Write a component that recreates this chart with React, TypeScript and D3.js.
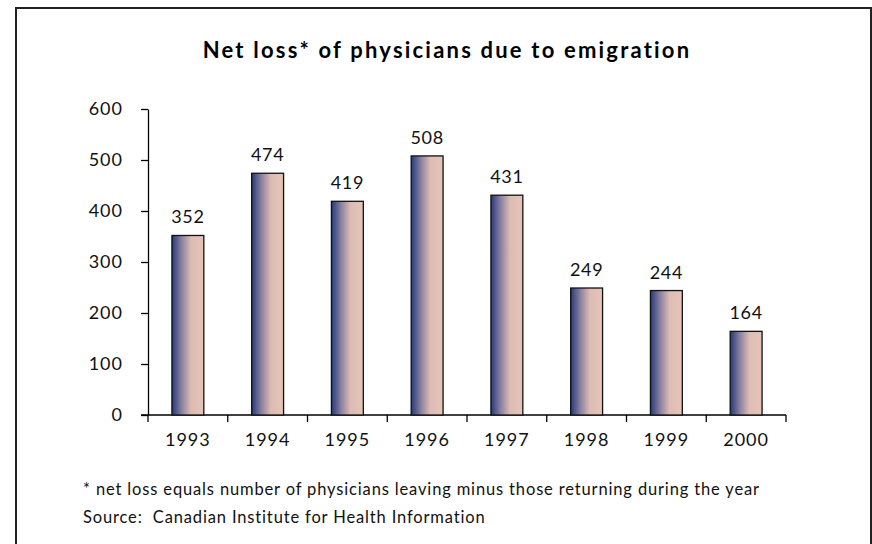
import React, { useEffect, useRef } from "react";
import * as d3 from "d3";

const years = ["1993", "1994", "1995", "1996", "1997", "1998", "1999", "2000"];
const netLoss = [352, 474, 419, 508, 431, 249, 244, 164];
const yTicks = [0, 100, 200, 300, 400, 500, 600];

const title = "Net loss* of physicians due to emigration";
const footnote = "* net loss equals number of physicians leaving minus those returning during the year";
const source = "Source:  Canadian Institute for Health Information";

const W = 872;
const H = 544;
const FONT = "Lato, 'Open Sans', sans-serif";

const App = () => {
  const ref = useRef<SVGSVGElement>(null);

  useEffect(() => {
    const svg = d3.select(ref.current);
    svg.selectAll("*").remove();

    // gradient for the bars: navy on the left, pink on the right
    const grad = svg
      .append("defs")
      .append("linearGradient")
      .attr("id", "barGrad")
      .attr("x1", "0%")
      .attr("x2", "100%")
      .attr("y1", "0%")
      .attr("y2", "0%");
    grad.append("stop").attr("offset", "0%").attr("stop-color", "#233a7c");
    grad.append("stop").attr("offset", "30%").attr("stop-color", "#8a7f9e");
    grad.append("stop").attr("offset", "60%").attr("stop-color", "#dcbcb4");
    grad.append("stop").attr("offset", "100%").attr("stop-color", "#e6c5b8");

    // frame
    svg
      .append("rect")
      .attr("x", 16)
      .attr("y", 8)
      .attr("width", 855)
      .attr("height", 560)
      .attr("fill", "#fff")
      .attr("stroke", "#222")
      .attr("stroke-width", 2);

    svg
      .append("text")
      .attr("x", 447)
      .attr("y", 58)
      .attr("text-anchor", "middle")
      .attr("font-family", FONT)
      .attr("font-weight", "bold")
      .attr("font-size", 22)
      .attr("letter-spacing", 2.2)
      .text(title);

    const x = d3.scaleBand().domain(years).range([148, 786]).paddingInner(0.6).paddingOuter(0.3);
    const y = d3.scaleLinear().domain([0, 600]).range([415, 109]);

    const g = svg.append("g").attr("font-family", FONT).attr("fill", "#111");

    // y axis
    const yAxis = g
      .append("g")
      .attr("transform", `translate(148,0)`)
      .call(d3.axisLeft(y).tickValues(yTicks).tickSize(7).tickPadding(18).tickSizeOuter(0));
    yAxis.select(".domain").attr("stroke", "#000").attr("stroke-width", 1.3);
    yAxis.selectAll(".tick line").attr("stroke", "#000").attr("stroke-width", 1.3);
    yAxis
      .selectAll(".tick text")
      .attr("font-family", FONT)
      .attr("font-size", 18)
      .attr("letter-spacing", 1)
      .attr("fill", "#111");

    // x axis: ticks at band boundaries
    const xa = g.append("g");
    xa.append("line")
      .attr("x1", 141)
      .attr("x2", 786)
      .attr("y1", y(0))
      .attr("y2", y(0))
      .attr("stroke", "#000")
      .attr("stroke-width", 1.3);
    const step = x.step();
    const bounds = d3.range(years.length + 1).map((i) => 148 + i * step);
    xa.selectAll("line.tk")
      .data(bounds)
      .join("line")
      .attr("class", "tk")
      .attr("x1", (d) => d)
      .attr("x2", (d) => d)
      .attr("y1", y(0))
      .attr("y2", y(0) + 7)
      .attr("stroke", "#000")
      .attr("stroke-width", 1.3);
    xa.selectAll("text")
      .data(years)
      .join("text")
      .attr("x", (d) => 148 + (years.indexOf(d) + 0.5) * step)
      .attr("y", 446)
      .attr("text-anchor", "middle")
      .attr("font-size", 18)
      .attr("letter-spacing", 1)
      .text((d) => d);

    // bars
    g.selectAll("rect.bar")
      .data(netLoss)
      .join("rect")
      .attr("class", "bar")
      .attr("x", (d, i) => x(years[i])!)
      .attr("y", (d) => y(d))
      .attr("width", x.bandwidth())
      .attr("height", (d) => y(0) - y(d))
      .attr("fill", "url(#barGrad)")
      .attr("stroke", "#111")
      .attr("stroke-width", 1.3);

    g.selectAll("text.val")
      .data(netLoss)
      .join("text")
      .attr("class", "val")
      .attr("x", (d, i) => x(years[i])! + x.bandwidth() / 2)
      .attr("y", (d) => y(d) - 12)
      .attr("text-anchor", "middle")
      .attr("font-size", 18)
      .attr("letter-spacing", 0.6)
      .text((d) => d);

    // notes
    g.append("text")
      .attr("x", 83)
      .attr("y", 495)
      .attr("font-size", 16.5)
      .attr("letter-spacing", 0.85)
      .text(footnote);
    g.append("text")
      .attr("x", 83)
      .attr("y", 523)
      .attr("font-size", 16.5)
      .attr("letter-spacing", 0.85)
      .attr("xml:space", "preserve")
      .text(source);
  }, []);

  return (
    <svg
      ref={ref}
      width={W}
      height={H}
      style={{ position: "absolute", left: 0, top: 0, background: "#fff" }}
    />
  );
};

export default App;
